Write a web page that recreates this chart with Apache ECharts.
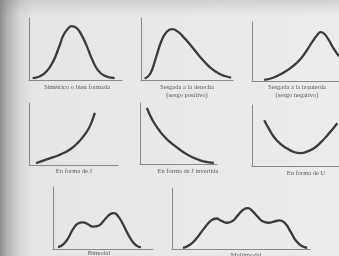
<!DOCTYPE html>
<html>
<head>
<meta charset="utf-8">
<script src="https://cdn.jsdelivr.net/npm/echarts@6/dist/echarts.min.js"></script>
<style>
    html, body { margin: 0; padding: 0; }
    body {
        width: 339px; height: 256px; overflow: hidden;
        background:
            linear-gradient(to bottom, rgba(120,120,120,0.22) 0, rgba(120,120,120,0.08) 10px, rgba(120,120,120,0) 16px),
            linear-gradient(to right, #8e8e8e 0, #b4b4b4 8px, #d8d8d6 20px, #e6e6e4 34px, #ececea 100%);
    }
    #chart { width: 339px; height: 256px; }
</style>
</head>
<body>
<div id="chart"></div>
<script>
// Formas de distribuciones: cada curva en escala 0-100 (x) y 0-100 (y)
const simetrica = [[4,3],[12,6],[19,14],[26,30],[32,52],[37,72],[42,83],[46,87],[51,84],[56,74],[62,55],[68,33],[74,16],[81,7],[92,3]];
const sesgoDerecha = [[4,2],[10,10],[16,35],[22,62],[28,78],[34,82],[40,78],[47,68],[54,56],[61,43],[68,31],[76,19],[84,11],[92,6],[98,4]];
const sesgoIzquierda = [[14,2],[25,6],[36,14],[46,24],[55,36],[63,52],[70,68],[75,78],[79,83],[83,80],[88,70],[93,57],[100,42]];
const formaJ = [[8,3],[16,7],[24,11],[32,15],[40,20],[48,27],[55,36],[61,46],[66,56],[70,68],[74,84]];
const formaJInvertida = [[9,92],[13,80],[18,68],[24,57],[30,47],[38,37],[47,28],[57,19],[68,11],[78,6],[88,3],[96,2]];
const formaU = [[14,75],[19,62],[25,48],[32,37],[40,29],[48,23],[56,21],[64,24],[72,30],[80,40],[87,51],[93,61],[98,70]];
const bimodal = [[5,3],[10,7],[15,17],[20,32],[25,41],[30,43],[35,40],[40,36],[46,38],[52,48],[57,56],[61,58],[65,53],[70,40],[75,24],[80,11],[85,4],[88,3]];
const multimodal = [[8,2],[13,7],[18,18],[23,33],[28,46],[32,50],[36,46],[40,43],[44,46],[48,56],[52,65],[55,67],[58,63],[62,53],[66,45],[70,43],[74,45],[78,47],[82,42],[86,28],[90,13],[94,5],[98,2]];

const curvas = [simetrica, sesgoDerecha, sesgoIzquierda, formaJ, formaJInvertida, formaU, bimodal, multimodal];
const etiquetas = [
    ['Simétrico o bien formada'],
    ['Sesgada a la derecha', '(sesgo positivo)'],
    ['Sesgada a la izquierda', '(sesgo negativo)'],
    ['En forma de J'],
    ['En forma de J invertida'],
    ['En forma de U'],
    ['Bimodal'],
    ['Multimodal']
];

document.addEventListener('DOMContentLoaded', function() {
    const chart = echarts.init(document.getElementById('chart'), null, { renderer: 'canvas' });

    // cajas de cada panel (izquierda, arriba, ancho, alto)
    const cajas = [
        [29, 18, 93, 62],
        [141, 18, 92, 62],
        [252, 22, 90, 59],
        [29, 103, 89, 62],
        [140, 103, 77, 61],
        [252, 105, 90, 61],
        [53, 187, 100, 62],
        [172, 188, 138, 61]
    ];
    // posicion del texto debajo de cada panel
    const textos = [
        [77, 87], [187, 87], [297, 87],
        [74, 171], [188, 171], [306, 173],
        [99, 253], [246, 255]
    ];

    const ejeComun = {
        type: 'value', min: 0, max: 100,
        axisLine: { show: true, lineStyle: { color: '#8a8a8a', width: 1 } },
        axisTick: { show: false },
        axisLabel: { show: false },
        splitLine: { show: false }
    };

    const grid = [], xAxis = [], yAxis = [], series = [], graphic = [];
    cajas.forEach(function(c, i) {
        grid.push({ left: c[0], top: c[1], width: c[2], height: c[3] });
        xAxis.push(Object.assign({ gridIndex: i }, ejeComun));
        yAxis.push(Object.assign({ gridIndex: i }, ejeComun));
        series.push({
            type: 'line',
            xAxisIndex: i,
            yAxisIndex: i,
            data: curvas[i],
            smooth: 0.5,
            symbol: 'none',
            clip: true,
            lineStyle: { color: '#3b3b3b', width: 2.3 }
        });
        etiquetas[i].forEach(function(t, k) {
            graphic.push({
                type: 'text',
                x: textos[i][0],
                y: textos[i][1] + k * 8,
                style: {
                    text: t,
                    align: 'center',
                    verticalAlign: 'middle',
                    font: '6.5px "Liberation Serif", serif',
                    fill: '#5a5a5a'
                }
            });
        });
    });

    chart.setOption({
        animation: false,
        backgroundColor: 'transparent',
        grid: grid,
        xAxis: xAxis,
        yAxis: yAxis,
        series: series,
        graphic: graphic
    });
});
</script>
</body>
</html>
